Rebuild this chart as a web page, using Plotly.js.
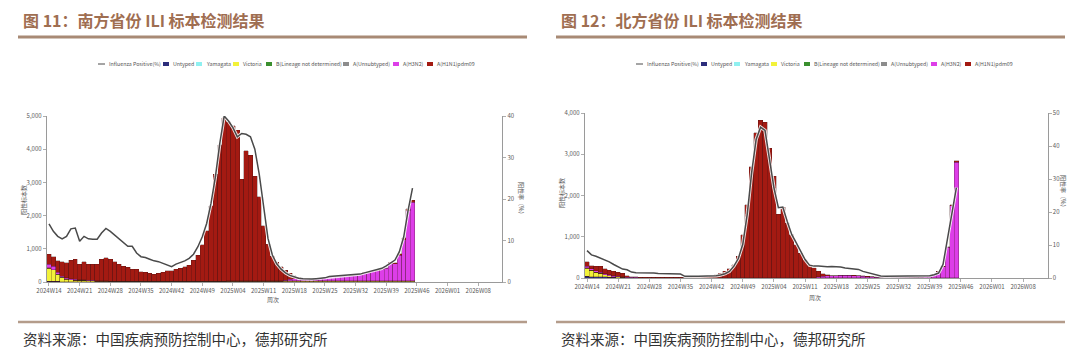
<!DOCTYPE html>
<html><head><meta charset="utf-8">
<script src="https://cdn.plot.ly/plotly-3.0.1.min.js"></script>
<style>html,body{margin:0;padding:0;background:#fff}#chart{width:1080px;height:353px}</style>
</head><body><div id="chart"></div>
<script>
// ---------- categories ----------
const weeks = [
"2024W14","2024W15","2024W16","2024W17","2024W18","2024W19","2024W20","2024W21","2024W22","2024W23",
"2024W24","2024W25","2024W26","2024W27","2024W28","2024W29","2024W30","2024W31","2024W32","2024W33",
"2024W34","2024W35","2024W36","2024W37","2024W38","2024W39","2024W40","2024W41","2024W42","2024W43",
"2024W44","2024W45","2024W46","2024W47","2024W48","2024W49","2024W50","2024W51","2024W52",
"2025W01","2025W02","2025W03","2025W04","2025W05","2025W06","2025W07","2025W08","2025W09","2025W10",
"2025W11","2025W12","2025W13","2025W14","2025W15","2025W16","2025W17","2025W18","2025W19","2025W20",
"2025W21","2025W22","2025W23","2025W24","2025W25","2025W26","2025W27","2025W28","2025W29","2025W30",
"2025W31","2025W32","2025W33","2025W34","2025W35","2025W36","2025W37","2025W38","2025W39","2025W40",
"2025W41","2025W42","2025W43","2025W44","2025W45","2025W46","2025W47","2025W48","2025W49","2025W50",
"2025W51","2025W52",
"2026W01","2026W02","2026W03","2026W04","2026W05","2026W06","2026W07","2026W08","2026W09","2026W10",
"2026W11","2026W12","2026W13"];
const tickWeeks = ["2024W14","2024W21","2024W28","2024W35","2024W42","2024W49","2025W04","2025W11",
"2025W18","2025W25","2025W32","2025W39","2025W46","2026W01","2026W08"];

const seriesNames = ["Untyped","Yamagata","Victoria","B(Lineage not determined)","A(Unsubtyped)","A(H3N2)","A(H1N1)pdm09"];
const lineName = "Influenza Positive(%)";

// ---------- South (图11) ----------
const south_untyped = [30,25,20,15,10,5,5,5,5,5, 5,5,5,5,5,5,5,5,5,5, 5,5,5,5,5,5,5,5,5,5, 5,5,5,5,5,5,5,5,5,5,
 5,5,5,5,5,5,5,5,5,5, 5,5,5,5,5,5,5,5,5,5, 5,5,5,5,5,5,5,5,5,5, 5,5,5,5,5,5,5,5,5,5, 5,5,5,5];
const south_yamagata = [0,0,0,0,0,0,0,0,0,0, 0,0,0,0,0,0,0,0,0,0, 0,0,0,0,0,0,0,0,0,0, 0,0,0,0,0,0,0,0,0,0,
 0,0,0,0,0,0,0,0,0,0, 0,0,0,0,0,0,0,0,0,0, 0,0,0,0,0,0,0,0,0,0, 0,0,0,0,0,0,0,0,0,0, 0,0,0,0];
const south_victoria = [380,340,200,120,80,60,50,40,40,30, 30,20,20,15,10,10,10,10,10,10, 10,10,10,10,10,10,10,10,10,10,
 10,10,10,10,10,10,10,10,10,10, 10,15,15,15,15,15,15,15,15,15, 15,15,15,15,25,25,25,25,25,25,
 25,25,25,25,25,25,25,25,25,25, 25,25,25,25,25,25,25,25,25,25, 25,25,25,25];
const south_bnd = [0,0,0,0,0,5,5,5,5,5, 5,5,5,5,5,5,5,5,5,5, 5,5,5,5,5,5,5,5,5,5, 5,5,5,5,5,5,5,5,5,5,
 5,10,10,10,10,10,10,10,10,10, 10,10,10,10,10,10,10,10,10,10, 10,10,10,10,10,10,10,10,10,10,
 10,10,10,10,10,10,10,10,10,10, 10,10,10,10];
const south_aunsub = [15,10,10,5,5,0,0,0,0,0, 0,0,0,0,0,0,0,0,0,0, 0,0,0,0,0,0,0,0,0,0, 0,0,0,0,0,0,0,0,0,0,
 0,0,0,0,0,0,0,0,0,0, 0,0,0,0,0,0,0,0,0,0, 0,0,0,0,0,0,0,0,0,0, 0,0,0,0,0,0,0,0,0,0, 0,0,0,0];
const south_h3n2 = [110,100,60,40,30,30,20,20,15,10, 10,10,10,10,10,5,5,5,5,5, 5,5,5,5,5,5,5,5,5,5,
 5,5,5,5,5,5,5,5,5,5, 5,5,5,5,5,5,5,5,5,5, 5,5,5,5,20,40,60,60,60,55,
 50,60,70,90,110,120,140,130,140,150, 170,190,235,235,280,300,340,370,530,510, 770,1240,2100,2360];
const south_h1n1 = [305,285,350,430,455,560,610,470,545,490, 490,500,640,695,650,585,515,455,415,365,
 355,285,265,235,215,235,275,315,315,355, 395,435,475,635,775,1095,1515,2265,3215,4115,
 4915,4785,4665,4535,3055,3915,3785,3145,2535,1655, 1105,745,565,425,300,180,90,40,20,15,
 10,10,10,10,10,10,10,10,10,10, 10,10,15,15,20,20,20,20,30,30, 40,50,60,60];
const south_pos = [14.0,12.2,11.0,10.4,11.0,12.8,13.0,9.8,11.0,10.4, 10.3,10.3,11.8,12.9,12.2,11.3,10.5,9.7,8.6,8.6,
 7.0,6.1,5.9,5.5,5.1,4.9,4.5,4.0,3.7,4.3, 4.7,5.1,5.7,6.7,8.5,10.9,14.1,19.0,25.4,33.4,
 40.0,38.8,37.2,35.0,35.8,35.6,35.0,32.0,26.0,18.0, 10.5,6.5,4.4,3.1,2.2,1.6,1.2,0.9,0.8,0.7,
 0.7,0.8,0.9,1.0,1.3,1.4,1.5,1.6,1.6,1.7, 1.8,1.9,2.2,2.5,2.7,3.1,3.3,3.9,4.7,5.3, 7.3,10.9,17.3,22.6];

// ---------- North (图12) ----------
const north_untyped = [40,35,30,30,25,20,15,10,10,5, 5,5,3,3,3,3,3,3,3,3, 3,3,3,3,3,3,3,3,3,3, 3,3,3,3,3,3,3,3,3,3,
 3,3,3,3,3,3,3,3,3,3, 3,3,3,3,3,3,3,3,3,3, 3,3,3,3,3,3,3,3,3,3, 3,3,3,3,3,3,3,3,3,3, 3,3,3,3];
const north_yamagata = [0,0,0,0,0,0,0,0,0,0, 0,0,0,0,0,0,0,0,0,0, 0,0,0,0,0,0,0,0,0,0, 0,0,0,0,0,0,0,0,0,0,
 0,0,0,0,0,0,0,0,0,0, 0,0,0,0,0,0,0,0,0,0, 0,0,0,0,0,0,0,0,0,0, 0,0,0,0,0,0,0,0,0,0, 0,0,0,0];
const north_victoria = [200,150,110,80,50,30,20,15,10,5, 5,5,2,2,2,2,2,2,2,2, 2,2,2,2,2,2,2,2,2,2, 2,2,2,2,2,2,2,2,2,2,
 2,2,2,2,2,2,2,2,2,2, 2,2,2,2,2,2,2,2,2,2, 2,2,2,2,2,2,2,2,2,2, 2,2,2,2,2,2,2,2,2,2, 2,2,2,2];
const north_bnd = [0,0,0,0,0,0,0,0,0,0, 0,0,0,0,0,0,0,0,0,0, 0,0,0,0,0,0,0,0,0,0, 0,0,0,0,0,0,0,0,0,0,
 0,0,0,0,0,0,0,0,0,0, 0,0,0,0,0,0,0,0,0,0, 0,0,0,0,0,0,0,0,0,0, 0,0,0,0,0,0,0,0,0,0, 0,0,0,0];
const north_aunsub = [10,5,5,5,0,0,0,0,0,0, 0,0,0,0,0,0,0,0,0,0, 0,0,0,0,0,0,0,0,0,0, 0,0,0,0,0,0,0,0,0,0,
 0,0,0,0,0,0,0,0,0,0, 0,0,0,0,0,0,0,0,0,0, 0,0,0,0,0,0,0,0,0,0, 0,0,0,0,0,0,0,0,0,0, 0,0,0,0];
const north_h3n2 = [40,30,30,30,25,25,20,20,15,10, 5,5,3,3,3,3,3,3,3,3, 3,3,3,3,3,3,3,3,3,3, 3,3,3,3,3,3,3,3,3,3,
 3,3,3,3,3,3,3,3,3,3, 3,3,30,40,50,45,50,60,60,60, 55,50,40,30,22,18,13,8,8,8,
 8,8,8,8,12,17,22,42,72,150, 265,740,1750,2800];
const north_h1n1 = [110,80,115,135,125,110,105,100,80,35, 15,10,12,12,7,7,7,7,7,7,
 7,7,2,2,7,12,17,22,32,72, 112,152,212,312,517,1042,1772,2692,3512,3822,
 3772,3132,2462,1542,1712,1322,1042,802,592,437, 312,242,125,55,25,10,5,5,5,5,
 5,5,5,5,3,2,2,2,2,2, 2,2,2,2,3,3,3,3,3,5, 10,15,25,35];
const north_pos = [8.3,7.0,6.6,6.1,5.6,4.9,4.1,3.3,2.7,2.5, 1.8,1.6,1.6,1.7,1.6,1.5,1.4,1.4,1.4,1.4,
 1.3,1.2,0.5,0.4,0.5,0.5,0.5,0.5,0.5,0.7, 0.9,1.3,2.0,3.6,5.9,10.2,19.3,32.0,42.0,45.7,
 44.7,36.6,27.4,21.3,21.5,17.1,13.2,10.7,8.1,5.6, 3.9,3.6,3.6,3.4,3.4,3.5,3.5,3.3,3.0,2.8,
 2.8,2.6,2.0,1.6,1.2,0.9,0.6,0.5,0.5,0.5, 0.5,0.5,0.5,0.5,0.5,0.5,0.5,0.7,1.0,1.5, 4.1,12.2,19.3,27.4];

// ---------- styling ----------
const colors = ["#2c2e7c","#8ff0f0","#f2f23a","#3a8f2e","#8c8c8c","#dd3ee8","#a31a12"];
const lineColor = "#4a4a4a";
const FONT = "Noto Sans CJK SC, Noto Sans, sans-serif";
const W = 1080, H = 353;
const px = x => x / W;
const py = y => 1 - y / H;

function panelTraces(series, pos, xa, ya, ya2) {
  const x = weeks.slice(0, pos.length);
  const t = [];
  series.forEach((vals, k) => {
    t.push({type:'bar', name:seriesNames[k], x:x, y:vals, xaxis:xa, yaxis:ya,
      marker:{color:colors[k], line:{color:'rgba(60,20,20,0.55)', width:0.5}}, hoverinfo:'x+y+name'});
  });
  t.push({type:'scatter', mode:'lines', x:x, y:pos, xaxis:xa, yaxis:ya2, hoverinfo:'skip',
    line:{color:'rgba(255,255,255,0.85)', width:3.4}, showlegend:false});
  t.push({type:'scatter', mode:'lines', name:lineName, x:x, y:pos, xaxis:xa, yaxis:ya2,
    line:{color:lineColor, width:1.5}});
  return t;
}

const traces = [].concat(
  panelTraces([south_untyped,south_yamagata,south_victoria,south_bnd,south_aunsub,south_h3n2,south_h1n1], south_pos, 'x','y','y2'),
  panelTraces([north_untyped,north_yamagata,north_victoria,north_bnd,north_aunsub,north_h3n2,north_h1n1], north_pos, 'x2','y3','y4')
);

const tickFont = {family:FONT, size:6, color:'#595959'};
function xAx(dom, anchor) {
  return {domain:dom, anchor:anchor, type:'category', categoryorder:'array', categoryarray:weeks,
    range:[-0.5, weeks.length-0.5], tickmode:'array', tickvals:tickWeeks, ticktext:tickWeeks, tickangle:0,
    ticks:'outside', ticklen:3, tickwidth:0.8, tickcolor:'#9a9a9a', showline:true, linecolor:'#9a9a9a', linewidth:1,
    tickfont:tickFont, showgrid:false, zeroline:false, fixedrange:true};
}
function yAx(dom, anchor, max, dt, extra) {
  return Object.assign({domain:dom, anchor:anchor, range:[0,max], tickmode:'linear', tick0:0, dtick:dt,
    tickformat:',', ticks:'outside', ticklen:3, tickwidth:0.8, tickcolor:'#9a9a9a', showline:true,
    linecolor:'#9a9a9a', linewidth:1, tickfont:tickFont, showgrid:false, zeroline:false, fixedrange:true}, extra||{});
}

const xDomL = [px(46.8), px(502.3)], yDomL = [py(282), py(116)];
const xDomR = [px(584.8), px(1047.6)], yDomR = [py(278), py(113)];

const shapes = [], annotations = [];
const panels = [
  {x0:18, x1:527, title:"图 11：南方省份 ILI 标本检测结果", tx:21, ytl:[23,200], ytr:[522,200], xt:[273,299], lx:0},
  {x0:556, x1:1065, title:"图 12：北方省份 ILI 标本检测结果", tx:559, ytl:[561,193], ytr:[1064,193], xt:[815,297], lx:538}
];
const legendSym = [98,163,196,233,266,343,393,427];
panels.forEach(p => {
  shapes.push({type:'line', xref:'paper', yref:'paper', x0:px(p.x0), x1:px(p.x1), y0:py(37), y1:py(37),
    line:{color:'#a88a75', width:3}});
  shapes.push({type:'line', xref:'paper', yref:'paper', x0:px(p.x0), x1:px(p.x1), y0:py(322), y1:py(322),
    line:{color:'#b49c8b', width:2.5}});
  annotations.push({xref:'paper', yref:'paper', x:px(p.tx), y:py(20), xanchor:'left', yanchor:'middle', showarrow:false,
    text:'<b>'+p.title+'</b>', font:{family:FONT, size:16, color:'#9f6e51'}});
  annotations.push({xref:'paper', yref:'paper', x:px(p.tx), y:py(338), xanchor:'left', yanchor:'middle', showarrow:false,
    text:'资料来源：中国疾病预防控制中心，德邦研究所', font:{family:FONT, size:14.5, color:'#333'}});
  annotations.push({xref:'paper', yref:'paper', x:px(p.ytl[0]), y:py(p.ytl[1]), xanchor:'center', yanchor:'middle', showarrow:false,
    text:'阳性标本数', textangle:-90, font:{family:FONT, size:6, color:'#555'}});
  annotations.push({xref:'paper', yref:'paper', x:px(p.ytr[0]), y:py(p.ytr[1]), xanchor:'center', yanchor:'middle', showarrow:false,
    text:'阳性率（%）', textangle:90, font:{family:FONT, size:6, color:'#555'}});
  annotations.push({xref:'paper', yref:'paper', x:px(p.xt[0]), y:py(p.xt[1]), xanchor:'center', yanchor:'middle', showarrow:false,
    text:'周次', font:{family:FONT, size:6, color:'#555'}});
  const ly = 64;
  const items = [lineName].concat(seriesNames);
  items.forEach((name, k) => {
    const sx = legendSym[k] + p.lx;
    if (k === 0) {
      shapes.push({type:'line', xref:'paper', yref:'paper', x0:px(sx), x1:px(sx+7), y0:py(ly), y1:py(ly),
        line:{color:lineColor, width:1}});
    } else {
      shapes.push({type:'rect', xref:'paper', yref:'paper', x0:px(sx), x1:px(sx+6), y0:py(ly+2), y1:py(ly-2),
        fillcolor:colors[k-1], line:{width:0}});
    }
    annotations.push({xref:'paper', yref:'paper', x:px(sx + (k===0?9:8)), y:py(ly), xanchor:'left', yanchor:'middle',
      showarrow:false, text:name, font:{family:FONT, size:5.3, color:'#555'}});
  });
});

const layout = {
  width:W, height:H, margin:{l:0,r:0,t:0,b:0}, paper_bgcolor:'#fff', plot_bgcolor:'#fff',
  showlegend:false, barmode:'stack', bargap:0, font:{family:FONT},
  xaxis: xAx(xDomL, 'y'),
  yaxis: yAx(yDomL, 'x', 5000, 1000),
  yaxis2: yAx(yDomL, 'x', 40, 10, {overlaying:'y', side:'right'}),
  xaxis2: xAx(xDomR, 'y3'),
  yaxis3: yAx(yDomR, 'x2', 4000, 1000),
  yaxis4: yAx(yDomR, 'x2', 50, 10, {overlaying:'y3', side:'right'}),
  shapes: shapes, annotations: annotations
};
Plotly.newPlot('chart', traces, layout, {displayModeBar:false, staticPlot:true});
</script>
</body></html>
